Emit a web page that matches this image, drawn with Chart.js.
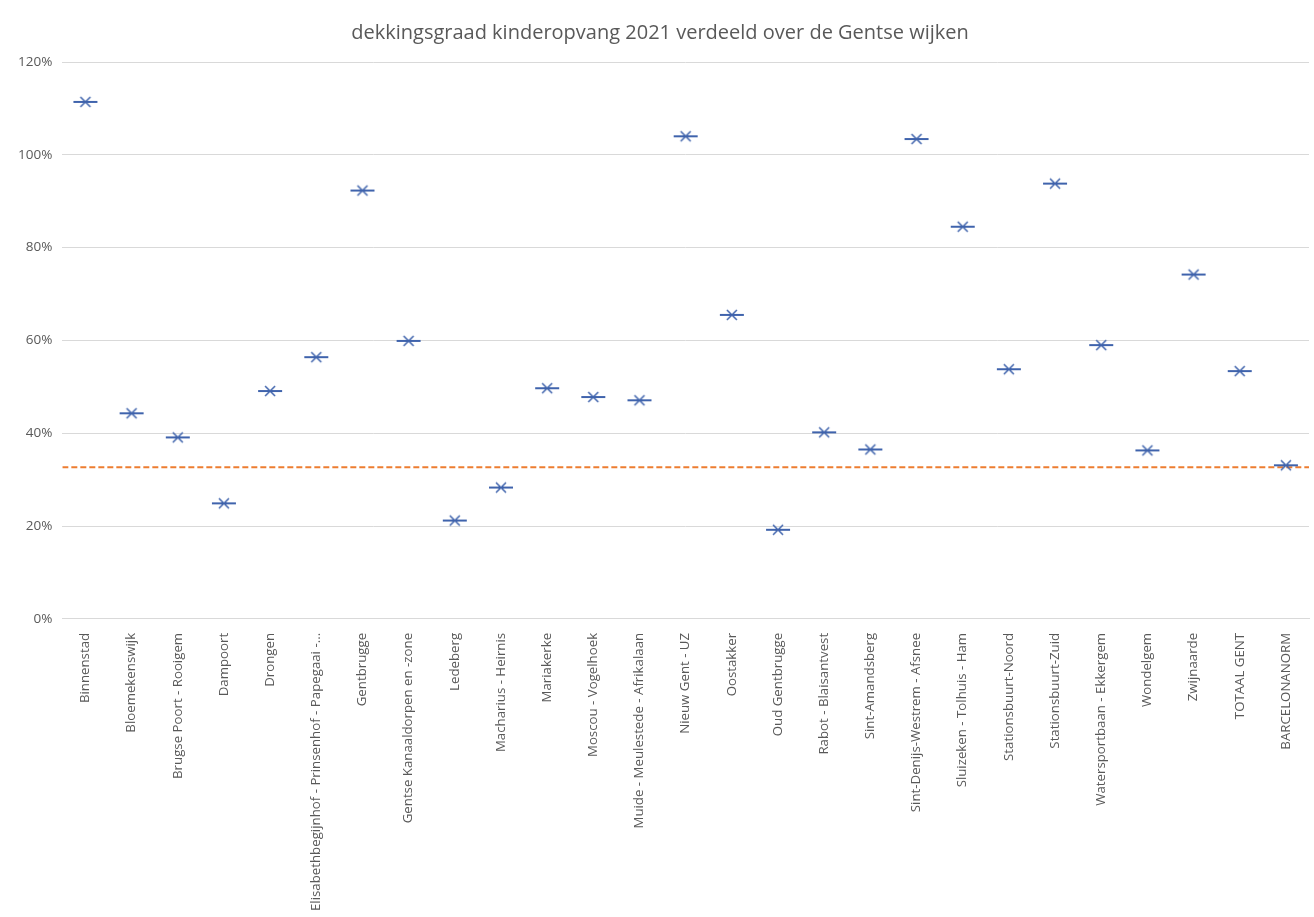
<!DOCTYPE html>
<html>
<head>
<meta charset="utf-8">
<script src="https://cdn.jsdelivr.net/npm/chart.js@4"></script>
<style>
    html, body { margin: 0; padding: 0; background: #fff; }
    #wrap { width: 1314px; height: 917px; position: relative; }
</style>
</head>
<body>
<div id="wrap"><canvas id="chartWijken"></canvas></div>
<script>
// wijken (categories)
const wijken = [
    'Binnenstad', 'Bloemekenswijk', 'Brugse Poort - Rooigem', 'Dampoort', 'Drongen',
    'Elisabethbegijnhof - Prinsenhof - Papegaai -...', 'Gentbrugge', 'Gentse Kanaaldorpen en -zone',
    'Ledeberg', 'Macharius - Heirnis', 'Mariakerke', 'Moscou - Vogelhoek',
    'Muide - Meulestede - Afrikalaan', 'Nieuw Gent - UZ', 'Oostakker', 'Oud Gentbrugge',
    'Rabot - Blaisantvest', 'Sint-Amandsberg', 'Sint-Denijs-Westrem - Afsnee',
    'Sluizeken - Tolhuis - Ham', 'Stationsbuurt-Noord', 'Stationsbuurt-Zuid',
    'Watersportbaan - Ekkergem', 'Wondelgem', 'Zwijnaarde', 'TOTAAL GENT', 'BARCELONANORM'
];

// dekkingsgraad in %
const dekkingsgraad = [
    111.4, 44.3, 39.1, 24.9, 49.1,
    56.4, 92.3, 59.9,
    21.2, 28.3, 49.7, 47.8,
    47.1, 104.0, 65.5, 19.2,
    40.2, 36.5, 103.4,
    84.5, 53.8, 93.8,
    59.0, 36.3, 74.2, 53.4, 33.1
];

// barcelonanorm reference line
const normLijn = [32.7, 32.7];
const normX = [0, 1];

const yTicks = [0, 20, 40, 60, 80, 100, 120];

// marker: X with a horizontal bar (like the Excel one)
function makeMarker() {
    const c = document.createElement('canvas');
    c.width = 26; c.height = 14;
    const g = c.getContext('2d');
    g.strokeStyle = '#3F63AC';
    g.lineWidth = 2;
    g.beginPath();
    g.moveTo(1, 7); g.lineTo(25, 7);
    g.stroke();
    g.lineWidth = 1.5;
    g.beginPath();
    g.moveTo(8, 2); g.lineTo(18, 12);
    g.moveTo(8, 12); g.lineTo(18, 2);
    g.stroke();
    return c;
}

const ctx = document.getElementById('chartWijken').getContext('2d');

new Chart(ctx, {
    type: 'line',
    data: {
        labels: wijken,
        datasets: [{
            label: 'dekkingsgraad',
            data: dekkingsgraad,
            showLine: false,
            pointStyle: makeMarker(),
            borderColor: '#3F63AC',
            backgroundColor: '#3F63AC'
        }, {
            label: 'Barcelonanorm',
            data: normX.map((x, i) => ({ x: x, y: normLijn[i] })),
            xAxisID: 'xNorm',
            borderColor: '#ED7D31',
            borderWidth: 2,
            borderDash: [6, 3],
            pointRadius: 0,
            fill: false
        }]
    },
    options: {
        responsive: true,
        maintainAspectRatio: false,
        animation: false,
        layout: { padding: { left: 8, right: 2, top: 0, bottom: 0 } },
        plugins: {
            legend: { display: false },
            tooltip: { enabled: false },
            title: {
                display: true,
                text: 'dekkingsgraad kinderopvang 2021 verdeeld over de Gentse wijken',
                color: '#595959',
                font: { family: 'Open Sans', size: 20, weight: 'normal' },
                padding: { top: 21, bottom: 17 }
            }
        },
        scales: {
            x: {
                type: 'category',
                offset: true,
                grid: { display: false },
                border: { color: '#d9d9d9' },
                ticks: {
                    autoSkip: false,
                    maxRotation: 90,
                    minRotation: 90,
                    padding: 6,
                    color: '#595959',
                    font: { family: 'Open Sans', size: 13.25 }
                }
            },
            xNorm: {
                type: 'linear',
                display: false,
                min: 0,
                max: 1
            },
            y: {
                min: 0,
                max: 120,
                afterBuildTicks: axis => { axis.ticks = yTicks.map(v => ({ value: v })); },
                grid: { color: '#d9d9d9', drawTicks: false },
                border: { display: false },
                ticks: {
                    padding: 10,
                    color: '#595959',
                    font: { family: 'Open Sans', size: 13.5 },
                    callback: v => v + '%'
                }
            }
        }
    }
});
</script>
</body>
</html>
